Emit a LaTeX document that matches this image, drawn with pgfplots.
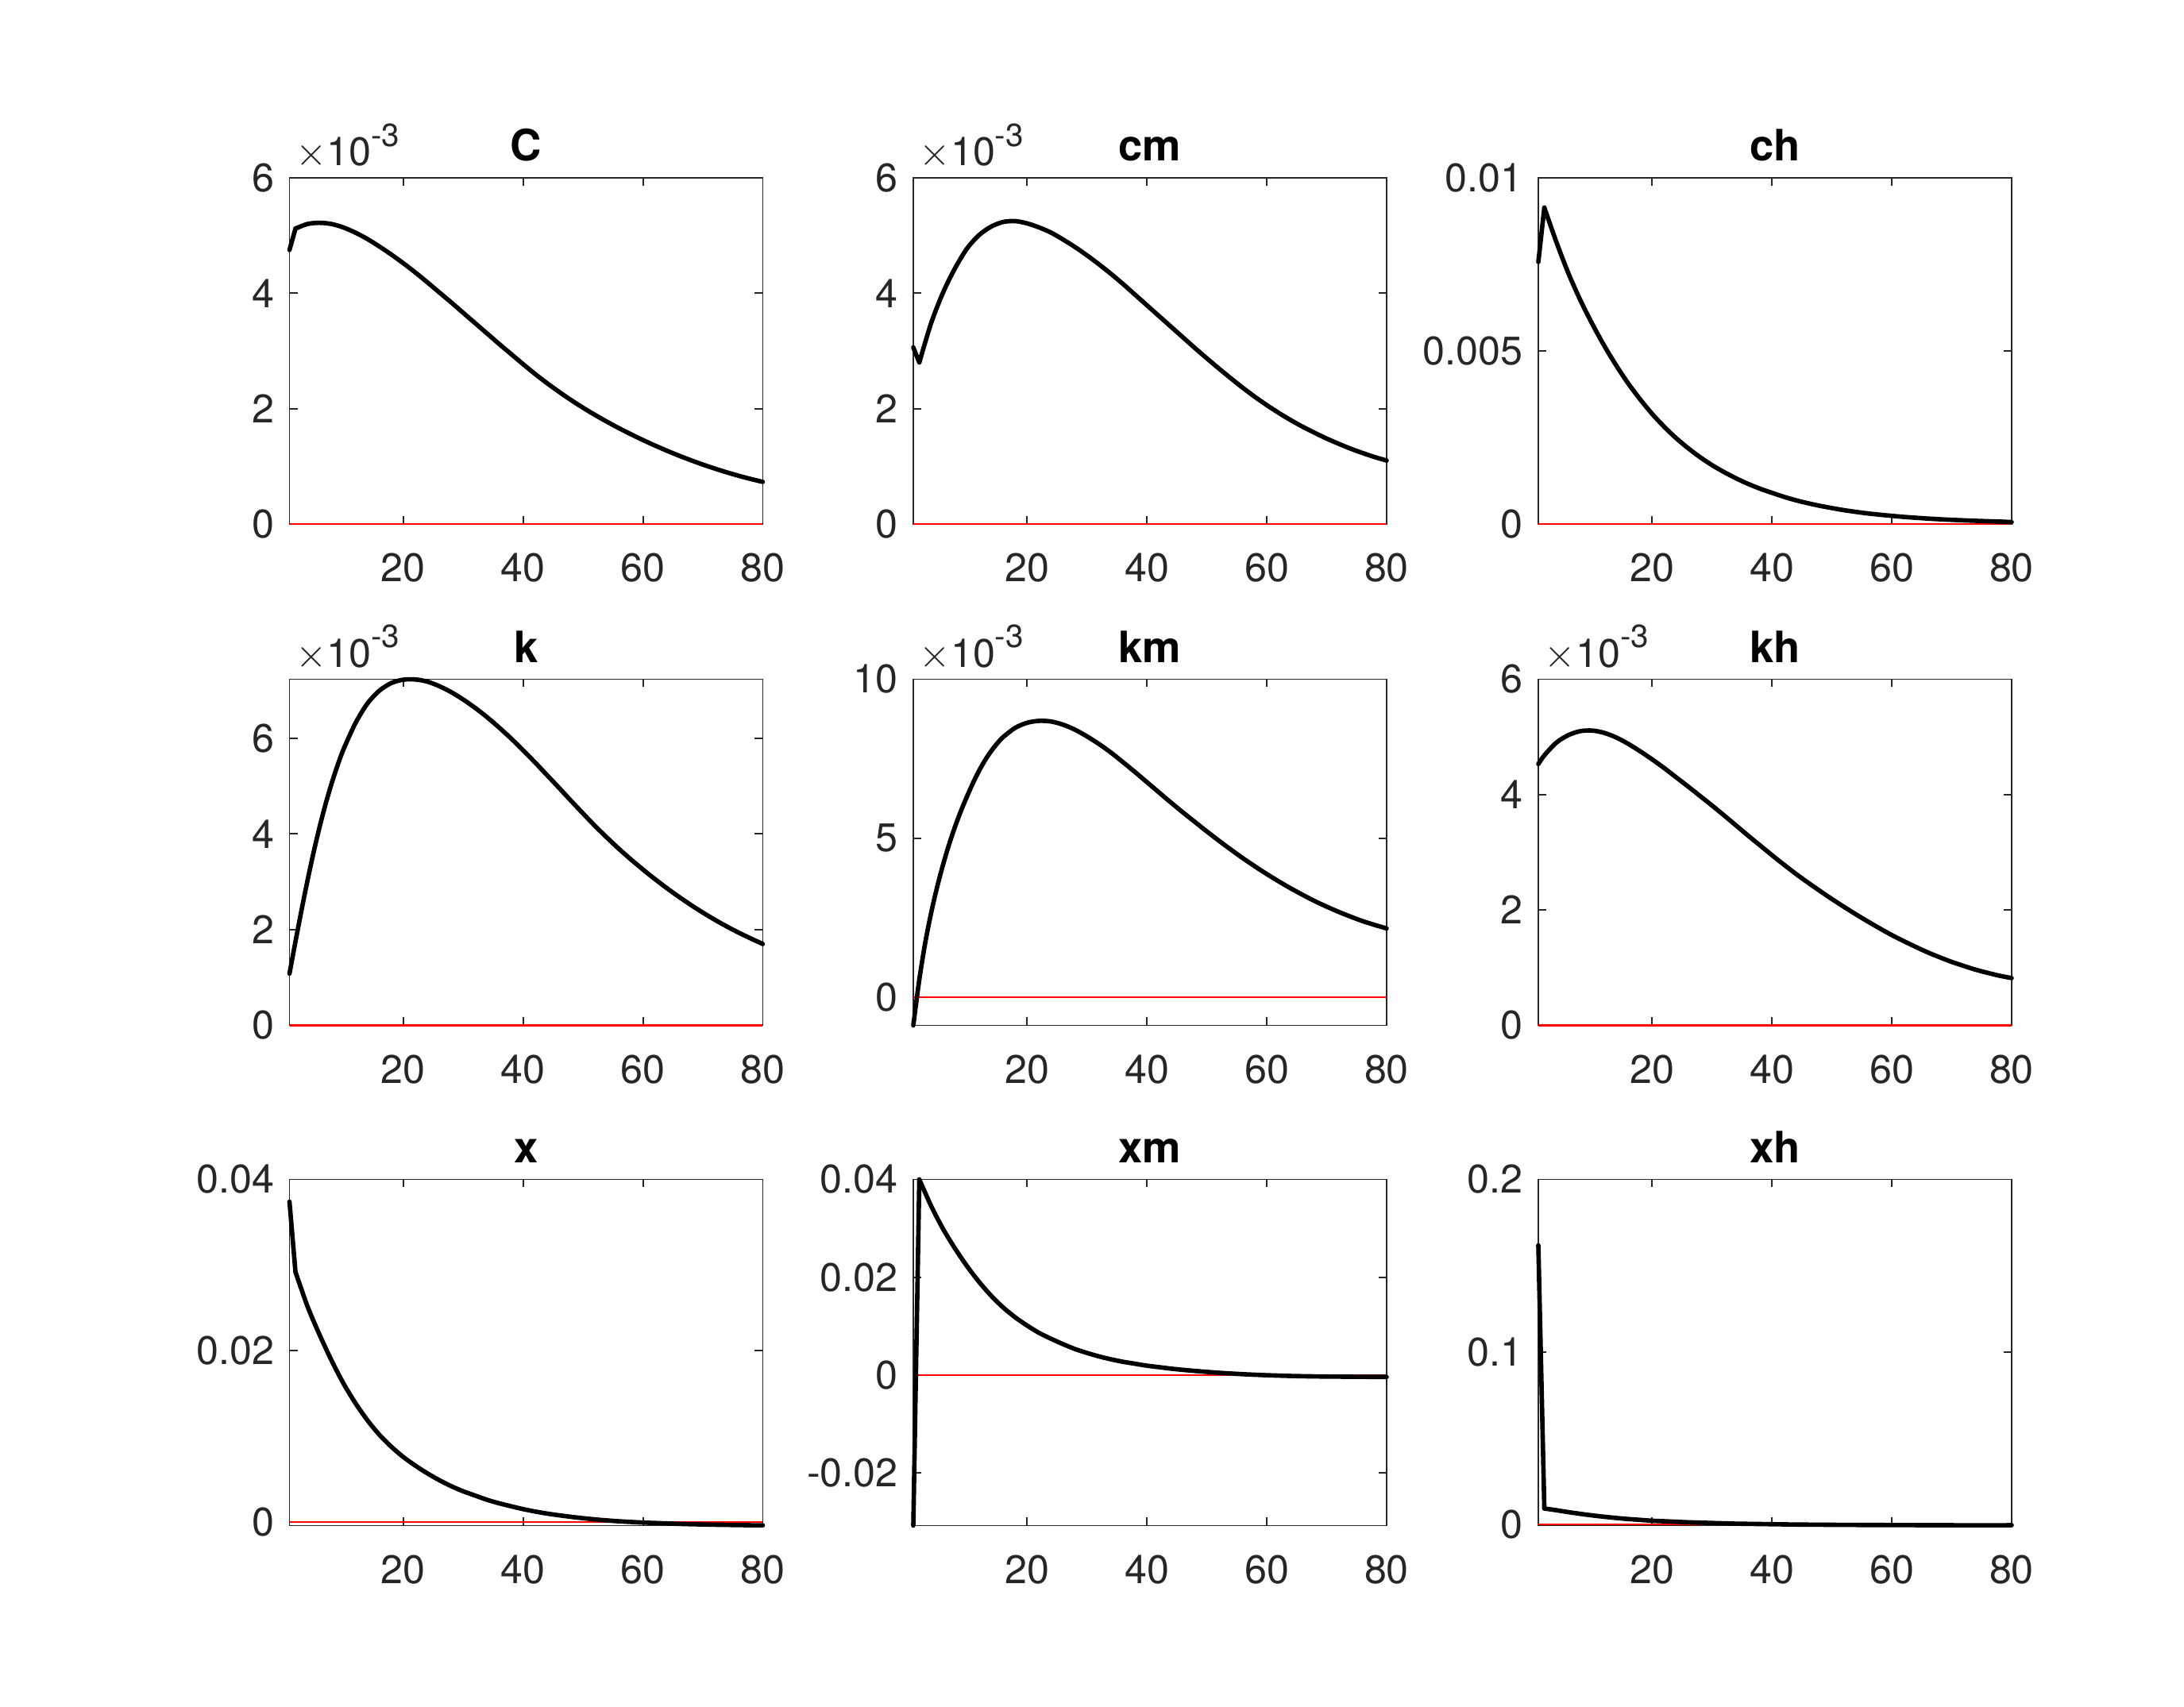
\documentclass[border=0pt]{standalone}
\usepackage{pgfplots}
\pgfplotsset{compat=1.18}
\usepackage{fontspec}
\setmainfont{TeX Gyre Heros}
\definecolor{axisgray}{RGB}{38,38,38}

\pgfplotsset{
  irf/.style={
    scale only axis, width=5.96cm, height=4.36cm,
    anchor=south west,
    xmin=1, xmax=80, xtick={20,40,60,80},
    scaled y ticks=false, scaled x ticks=false,
    tick align=inside, major tick length=0.1cm,
    axis line style={draw=axisgray, line width=0.55pt},
    tick style={draw=axisgray, line width=0.55pt},
    ticklabel style={font=\fontsize{14.3}{16}\selectfont, text=axisgray},
    xticklabel style={yshift=-7pt},
    yticklabel style={xshift=-2pt},
    title style={font=\bfseries\fontsize{15.5}{17}\selectfont, yshift=-3.5pt},
    /pgf/number format/assume math mode=true,
    clip=false,
  },
  resp/.style={black, line width=1.6pt, line join=round, line cap=round},
  zero/.style={red, line width=0.7pt},
}
\newcommand{\scalelabel}{\node[anchor=base west, inner sep=0pt, text=axisgray,
  font=\fontsize{14.3}{16}\selectfont] at (rel axis cs:0,1) [xshift=2pt, yshift=4.3pt]
  {$\times$10\raisebox{7pt}{\fontsize{11.5}{13}\selectfont -3}};}

\begin{document}
\begin{tikzpicture}
\path[use as bounding box] (0,0) rectangle (27.5cm,21.5cm);

% row 1
\begin{axis}[irf, at={(3.645cm,14.90cm)}, title={C},
  ymin=0, ymax=6, ytick={0,2,4,6}, yticklabels={0,2,4,6}]
\addplot[zero] coordinates {(1,0) (80,0)};
\addplot[resp] coordinates {(1,4.75) (2,5.12)};
\addplot[resp, smooth] coordinates {
(2,5.12) (4,5.20) (6,5.22) (8,5.20) (10,5.14) (12,5.05) (14,4.94) (16,4.81)
(18,4.67) (20,4.52) (22,4.36) (24,4.19) (26,4.015) (28,3.84) (30,3.66)
(32,3.48) (34,3.30) (36,3.12) (38,2.945) (40,2.77) (42,2.60) (44,2.44)
(46,2.29) (48,2.148) (50,2.015) (52,1.89) (54,1.772) (56,1.66) (58,1.555)
(60,1.455) (62,1.36) (64,1.27) (66,1.185) (68,1.105) (70,1.03) (72,0.96)
(74,0.895) (76,0.835) (78,0.78) (80,0.73)};
\scalelabel
\end{axis}

\begin{axis}[irf, at={(11.50cm,14.90cm)}, title={cm},
  ymin=0, ymax=6, ytick={0,2,4,6}, yticklabels={0,2,4,6}]
\addplot[zero] coordinates {(1,0) (80,0)};
\addplot[resp] coordinates {(1,3.06) (2,2.80)};
\addplot[resp, smooth] coordinates {
(2,2.80) (4,3.49) (6,4.02) (8,4.44) (10,4.78) (12,5.01) (14,5.155) (16,5.235)
(18,5.25) (20,5.21) (22,5.14) (24,5.05) (26,4.93) (28,4.80) (30,4.655)
(32,4.50) (34,4.335) (36,4.16) (38,3.975) (40,3.79) (42,3.605) (44,3.42)
(46,3.235) (48,3.05) (50,2.87) (52,2.695) (54,2.525) (56,2.36) (58,2.205)
(60,2.06) (62,1.925) (64,1.80) (66,1.685) (68,1.58) (70,1.48) (72,1.39)
(74,1.305) (76,1.23) (78,1.16) (80,1.10)};
\scalelabel
\end{axis}

\begin{axis}[irf, at={(19.37cm,14.90cm)}, title={ch},
  ymin=0, ymax=0.01, ytick={0,0.005,0.01}, yticklabels={0,0.005,0.01}]
\addplot[zero] coordinates {(1,0) (80,0)};
\addplot[resp] coordinates {(1,0.00757) (2,0.00914)};
\addplot[resp, smooth] coordinates {
(2,0.00914) (4,0.00815) (6,0.00725) (8,0.00647) (10,0.00578) (12,0.00515)
(14,0.00458) (16,0.00406) (18,0.00360) (20,0.00318) (22,0.00281) (24,0.00248)
(26,0.00219) (28,0.00193) (30,0.00170) (32,0.00150) (34,0.00132) (36,0.00116)
(38,0.00102) (40,0.00090) (42,0.000785) (44,0.000685) (46,0.00060)
(48,0.000525) (50,0.00046) (52,0.00040) (54,0.00035) (56,0.000305)
(58,0.000268) (60,0.000235) (62,0.000205) (64,0.00018) (66,0.000157)
(68,0.000137) (70,0.00012) (72,0.000105) (74,0.000092) (76,0.00008)
(78,0.00007) (80,0.000055)};
\end{axis}

% row 2
\begin{axis}[irf, at={(3.645cm,8.585cm)}, title={k},
  ymin=0, ymax=7.23, ytick={0,2,4,6}, yticklabels={0,2,4,6}]
\addplot[zero] coordinates {(1,0) (80,0)};
\addplot[resp, smooth] coordinates {
(1,1.08) (2,1.75) (3,2.40) (4,3.02) (5,3.60) (6,4.13) (7,4.61) (8,5.04)
(9,5.42) (10,5.76) (12,6.31) (14,6.72) (16,6.99) (18,7.15) (20,7.22)
(22,7.225) (24,7.18) (26,7.085) (28,6.96) (30,6.805) (32,6.63) (34,6.435)
(36,6.22) (38,5.99) (40,5.745) (42,5.49) (44,5.225) (46,4.96) (48,4.69)
(50,4.425) (52,4.165) (54,3.92) (56,3.685) (58,3.465) (60,3.255) (62,3.055)
(64,2.865) (66,2.685) (68,2.515) (70,2.355) (72,2.205) (74,2.065) (76,1.935)
(78,1.815) (80,1.70)};
\scalelabel
\end{axis}

\begin{axis}[irf, at={(11.50cm,8.585cm)}, title={km},
  ymin=-0.89, ymax=10, ytick={0,5,10}, yticklabels={0,5,10}]
\addplot[zero] coordinates {(1,0) (80,0)};
\addplot[resp, smooth] coordinates {
(1,-0.89) (2,0.55) (3,1.72) (4,2.67) (5,3.48) (6,4.19) (7,4.82) (8,5.38)
(9,5.88) (10,6.33) (11,6.75) (12,7.13) (13,7.46) (14,7.74) (15,7.98)
(16,8.18) (18,8.47) (20,8.63) (22,8.69) (24,8.67) (26,8.57) (28,8.41)
(30,8.20) (32,7.96) (34,7.69) (36,7.39) (38,7.08) (40,6.76) (42,6.44)
(44,6.12) (46,5.81) (48,5.51) (50,5.21) (52,4.92) (54,4.64) (56,4.37)
(58,4.115) (60,3.87) (62,3.64) (64,3.42) (66,3.215) (68,3.02) (70,2.845)
(72,2.68) (74,2.53) (76,2.39) (78,2.27) (80,2.16)};
\scalelabel
\end{axis}

\begin{axis}[irf, at={(19.37cm,8.585cm)}, title={kh},
  ymin=0, ymax=6, ytick={0,2,4,6}, yticklabels={0,2,4,6}]
\addplot[zero] coordinates {(1,0) (80,0)};
\addplot[resp, smooth] coordinates {
(1,4.53) (2,4.68) (4,4.90) (6,5.03) (8,5.10) (10,5.11) (12,5.07) (14,4.99)
(16,4.88) (18,4.75) (20,4.61) (22,4.46) (24,4.30) (26,4.14) (28,3.975)
(30,3.81) (32,3.64) (34,3.465) (36,3.29) (38,3.12) (40,2.95) (42,2.785)
(44,2.625) (46,2.475) (48,2.33) (50,2.19) (52,2.055) (54,1.925) (56,1.80)
(58,1.68) (60,1.565) (62,1.46) (64,1.36) (66,1.265) (68,1.18) (70,1.10)
(72,1.03) (74,0.965) (76,0.91) (78,0.86) (80,0.82)};
\scalelabel
\end{axis}

% row 3
\begin{axis}[irf, at={(3.645cm,2.285cm)}, title={x},
  ymin=-0.0004, ymax=0.04, ytick={0,0.02,0.04}, yticklabels={0,0.02,0.04}]
\addplot[zero] coordinates {(1,0) (80,0)};
\addplot[resp] coordinates {(1,0.0374) (2,0.0292)};
\addplot[resp, smooth] coordinates {
(2,0.0292) (4,0.0252) (6,0.0219) (8,0.0189) (10,0.0162) (12,0.0139)
(14,0.0119) (16,0.0102) (18,0.0088) (20,0.0076) (22,0.0066) (24,0.0057)
(26,0.0049) (28,0.0042) (30,0.0036) (32,0.0031) (34,0.0026) (36,0.0022)
(38,0.00185) (40,0.00152) (42,0.00124) (44,0.0010) (46,0.0008) (48,0.00062)
(50,0.00046) (52,0.00032) (54,0.0002) (56,0.0001) (58,0.00002) (60,-0.00005)
(62,-0.0001) (64,-0.00015) (66,-0.0002) (68,-0.00024) (70,-0.00027)
(72,-0.0003) (74,-0.00032) (76,-0.00034) (78,-0.00036) (80,-0.00037)};
\end{axis}

\begin{axis}[irf, at={(11.50cm,2.285cm)}, title={xm},
  ymin=-0.0308, ymax=0.04, ytick={-0.02,0,0.02,0.04}, yticklabels={-0.02,0,0.02,0.04}]
\addplot[zero] coordinates {(1,0) (80,0)};
\addplot[resp] coordinates {(1,-0.0308) (2,0.0400)};
\addplot[resp, smooth] coordinates {
(2,0.0400) (4,0.0345) (6,0.0298) (8,0.0258) (10,0.0222) (12,0.0190)
(14,0.0162) (16,0.0138) (18,0.0118) (20,0.0101) (22,0.0086) (24,0.0074)
(26,0.0063) (28,0.0053) (30,0.0045) (32,0.0038) (34,0.0032) (36,0.0027)
(38,0.0023) (40,0.0019) (42,0.0016) (44,0.0013) (46,0.00105) (48,0.00083)
(50,0.00063) (52,0.00045) (54,0.0003) (56,0.00016) (58,0.00005) (60,-0.00005)
(62,-0.00013) (64,-0.0002) (66,-0.00025) (68,-0.00029) (70,-0.00032)
(72,-0.00034) (74,-0.00036) (76,-0.00038) (78,-0.00039) (80,-0.0004)};
\end{axis}

\begin{axis}[irf, at={(19.37cm,2.285cm)}, title={xh},
  ymin=-0.0006, ymax=0.2, ytick={0,0.1,0.2}, yticklabels={0,0.1,0.2}]
\addplot[zero] coordinates {(1,0) (80,0)};
\addplot[resp] coordinates {(1,0.1618) (2,0.0093)};
\addplot[resp, smooth] coordinates {
(2,0.0093) (4,0.0083) (6,0.0072) (8,0.0062) (10,0.0053) (12,0.0045)
(14,0.0038) (16,0.0032) (18,0.0027) (20,0.0022) (22,0.0019) (24,0.0016)
(26,0.0013) (28,0.0011) (30,0.0009) (32,0.0007) (34,0.0005) (36,0.0004)
(38,0.0003) (40,0.0002) (44,0.0) (48,-0.0001) (52,-0.0002) (60,-0.0003)
(70,-0.0004) (80,-0.0004)};
\end{axis}
\end{tikzpicture}
\end{document}
